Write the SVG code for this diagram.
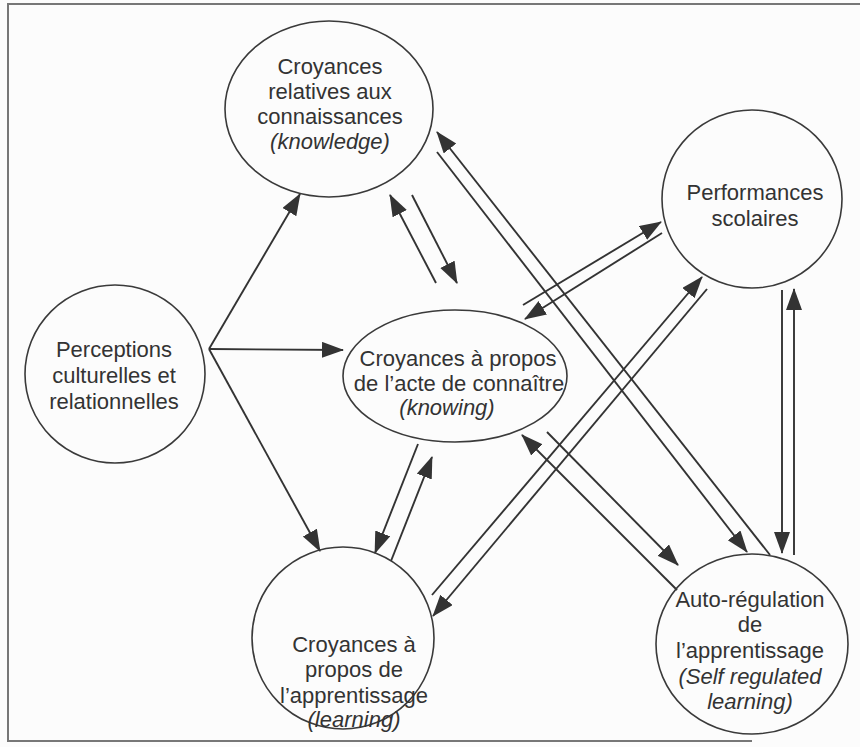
<svg xmlns="http://www.w3.org/2000/svg" width="860" height="747" viewBox="0 0 860 747">
<style>
.node{fill:none;stroke:#3a3a3a;stroke-width:1.6}
.t{font-family:"Liberation Sans",Arial,sans-serif;font-size:22px;fill:#333;text-anchor:middle}
.i{font-style:italic}
.c line{stroke:#333;stroke-width:1.9}
.frame{fill:none;stroke:#777;stroke-width:2}
</style>
<defs>
<marker id="ah" markerUnits="userSpaceOnUse" markerWidth="24" markerHeight="18" refX="21" refY="8" orient="auto">
<path d="M0,0 L22,8 L0,16 z" fill="#333"/>
</marker>
</defs>
<rect x="0" y="0" width="860" height="747" fill="#fcfcfc"/>
<path class="frame" d="M862,4 L8,4 L8,741 L752,741"/>

<g class="c">
<line x1="209" y1="349" x2="300" y2="194" marker-end="url(#ah)"/>
<line x1="209" y1="349" x2="343" y2="350" marker-end="url(#ah)"/>
<line x1="209" y1="349" x2="320" y2="551" marker-end="url(#ah)"/>

<line x1="436" y1="283" x2="390" y2="195" marker-end="url(#ah)"/>
<line x1="412" y1="195" x2="457" y2="283" marker-end="url(#ah)"/>

<line x1="770" y1="555" x2="437" y2="132" marker-end="url(#ah)"/>
<line x1="437" y1="152" x2="747" y2="552" marker-end="url(#ah)"/>

<line x1="523" y1="305" x2="661" y2="222" marker-end="url(#ah)"/>
<line x1="662" y1="233" x2="525" y2="319" marker-end="url(#ah)"/>

<line x1="432" y1="595" x2="702" y2="277" marker-end="url(#ah)"/>
<line x1="707" y1="289" x2="433" y2="616" marker-end="url(#ah)"/>

<line x1="418" y1="444" x2="375" y2="553" marker-end="url(#ah)"/>
<line x1="391" y1="561" x2="432" y2="457" marker-end="url(#ah)"/>

<line x1="677" y1="590" x2="522" y2="435" marker-end="url(#ah)"/>
<line x1="547" y1="432" x2="678" y2="565" marker-end="url(#ah)"/>

<line x1="782" y1="290" x2="782" y2="553" marker-end="url(#ah)"/>
<line x1="794" y1="555" x2="794" y2="289" marker-end="url(#ah)"/>
</g>

<g id="knowledge">
<ellipse class="node" cx="329" cy="109" rx="104" ry="88"/>
<text class="t" x="330" y="74">Croyances</text>
<text class="t" x="330" y="99">relatives aux</text>
<text class="t" x="330" y="124">connaissances</text>
<text class="t i" x="330" y="149">(knowledge)</text>
</g>

<g id="perceptions">
<ellipse class="node" cx="115" cy="374" rx="90" ry="89"/>
<text class="t" x="114" y="357">Perceptions</text>
<text class="t" x="114" y="383">culturelles et</text>
<text class="t" x="114" y="409">relationnelles</text>
</g>

<g id="knowing">
<ellipse class="node" cx="455" cy="376" rx="112" ry="66"/>
<text class="t" x="458" y="366">Croyances à propos</text>
<text class="t" x="459" y="391">de l’acte de connaître</text>
<text class="t i" x="447" y="415">(knowing)</text>
</g>

<g id="performances">
<ellipse class="node" cx="752" cy="199" rx="90" ry="89"/>
<text class="t" x="755" y="200">Performances</text>
<text class="t" x="755" y="226">scolaires</text>
</g>

<g id="learning">
<ellipse class="node" cx="343" cy="638" rx="91" ry="91"/>
<text class="t" x="354" y="652">Croyances à</text>
<text class="t" x="354" y="677">propos de</text>
<text class="t" x="354" y="703">l’apprentissage</text>
<text class="t i" x="354" y="727">(learning)</text>
</g>

<g id="autoregulation">
<ellipse class="node" cx="752" cy="644" rx="96" ry="90"/>
<text class="t" x="750" y="607">Auto-régulation</text>
<text class="t" x="750" y="632">de</text>
<text class="t" x="750" y="658">l’apprentissage</text>
<text class="t i" x="750" y="684">(Self regulated</text>
<text class="t i" x="750" y="709">learning)</text>
</g>
</svg>
